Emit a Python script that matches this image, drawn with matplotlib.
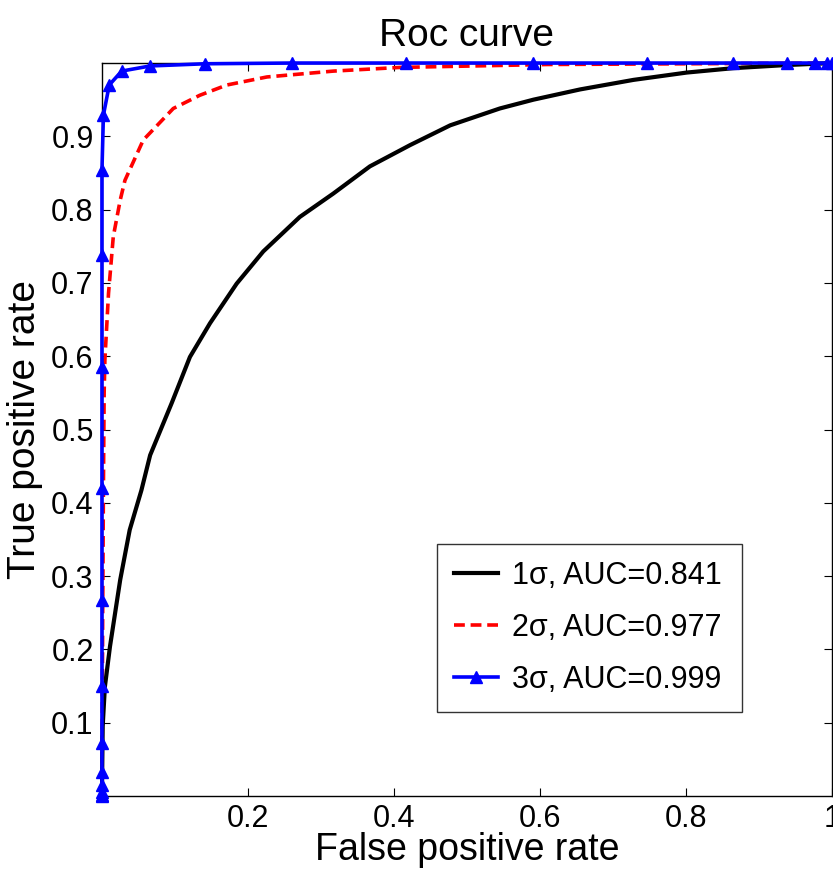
import matplotlib
matplotlib.use("Agg")
import matplotlib.pyplot as plt

plt.rcParams['font.family'] = ['Liberation Sans', 'DejaVu Sans']

# 1 sigma ROC (black solid)
fpr1 = [0, 0.0005, 0.001, 0.004, 0.011, 0.025, 0.038, 0.054, 0.066, 0.0955, 0.1205,
        0.148, 0.1845, 0.221, 0.271, 0.317, 0.367, 0.422, 0.477, 0.545, 0.591,
        0.655, 0.728, 0.801, 0.865, 0.933, 1.0]
tpr1 = [0, 0.05, 0.095, 0.149, 0.204, 0.295, 0.363, 0.417, 0.465, 0.536, 0.599,
        0.645, 0.699, 0.743, 0.790, 0.822, 0.859, 0.888, 0.915, 0.938, 0.950,
        0.964, 0.977, 0.987, 0.993, 0.997, 1.0]

# 2 sigma ROC (red dashed)
fpr2 = [0, 0.001, 0.002, 0.003, 0.004, 0.009, 0.0155, 0.025, 0.0315, 0.0566,
        0.0977, 0.134, 0.171, 0.226, 0.317, 0.408, 0.61, 1.0]
tpr2 = [0, 0.25, 0.42, 0.55, 0.595, 0.686, 0.763, 0.813, 0.840, 0.895,
        0.938, 0.956, 0.970, 0.981, 0.989, 0.994, 0.998, 1.0]

# 3 sigma ROC (blue with triangles)
fpr3 = [0, 0, 0, 0, 0, 0, 0, 0, 0, 0, 0, 0, 0.002, 0.01, 0.027, 0.066, 0.141,
        0.26, 0.417, 0.59, 0.746, 0.865, 0.938, 0.977, 0.993, 1.0]
tpr3 = [0, 0.001, 0.006, 0.015, 0.033, 0.072, 0.150, 0.267, 0.420, 0.585, 0.738,
        0.854, 0.929, 0.970, 0.989, 0.996, 0.999, 1.0, 1.0, 1.0, 1.0, 1.0, 1.0,
        1.0, 1.0, 1.0]

labels = ['1\u03c3, AUC=0.841', '2\u03c3, AUC=0.977', '3\u03c3, AUC=0.999']
xticks = [0.2, 0.4, 0.6, 0.8, 1.0]
xticklabels = ['0.2', '0.4', '0.6', '0.8', '1']
yticks = [0.1, 0.2, 0.3, 0.4, 0.5, 0.6, 0.7, 0.8, 0.9]
yticklabels = ['0.1', '0.2', '0.3', '0.4', '0.5', '0.6', '0.7', '0.8', '0.9']

fig = plt.figure(figsize=(8.33, 8.73), dpi=100)
ax = fig.add_axes([0.1224, 0.0882, 0.8764, 0.8396])

ax.plot(fpr1, tpr1, color='black', lw=3.0, label=labels[0], clip_on=False, zorder=3)
ax.plot(fpr2, tpr2, color='red', lw=2.6, ls=(0, (3, 1.6)), label=labels[1], clip_on=False, zorder=2)
ax.plot(fpr3, tpr3, color='#0000ff', lw=2.6, marker='^', ms=8, mec='#0000ff',
        mfc='#0000ff', label=labels[2], clip_on=False, zorder=4)

ax.set_xlim(0, 1)
ax.set_ylim(0, 1)
ax.set_xticks(xticks)
ax.set_xticklabels(xticklabels)
ax.set_yticks(yticks)
ax.set_yticklabels(yticklabels)
ax.tick_params(direction='in', length=6, width=0.8, top=True, right=True,
               labelsize=22, pad=6, colors='black')
for s in ax.spines.values():
    s.set_linewidth(1.0)
    s.set_color('black')

ax.set_title('Roc curve', fontsize=28, pad=12)
ax.set_xlabel('False positive rate', fontsize=27, labelpad=-2)
ax.set_ylabel('True positive rate', fontsize=28, labelpad=6)

leg = ax.legend(loc='lower left', bbox_to_anchor=(0.459, 0.115, 0.418, 0.221),
                mode='expand', fontsize=22, frameon=True, fancybox=False,
                edgecolor='black', handlelength=1.45, borderaxespad=0,
                labelspacing=0.72, handletextpad=0.45, borderpad=0.55)
leg.get_frame().set_linewidth(1.0)

fig.savefig('out.png', dpi=100)
